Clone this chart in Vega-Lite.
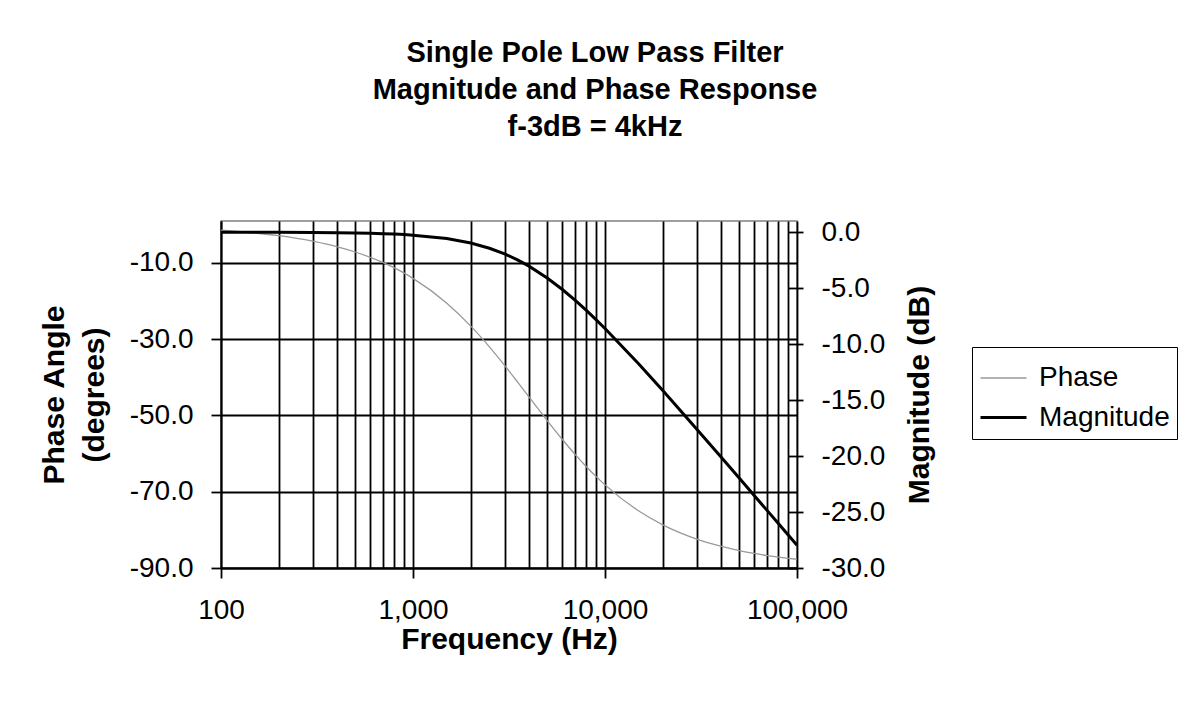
{
  "$schema": "https://vega.github.io/schema/vega-lite/v6.json",
  "width": 576,
  "height": 347,
  "autosize": {"type": "none"},
  "padding": {"left": 221, "top": 221, "right": 390, "bottom": 139},
  "background": "white",
  "title": {
    "text": ["Single Pole Low Pass Filter", "Magnitude and Phase Response", "f-3dB = 4kHz"],
    "anchor": "middle",
    "frame": "group",
    "dx": 86,
    "offset": 47,
    "baseline": "bottom",
    "lineHeight": 37,
    "font": "Liberation Sans",
    "fontSize": 29,
    "fontWeight": "bold",
    "color": "black"
  },
  "data": {
    "values": [
      {"f": 100, "Phase": -1.43, "Magnitude": -0.003},
      {"f": 150, "Phase": -2.15, "Magnitude": -0.006},
      {"f": 200, "Phase": -2.86, "Magnitude": -0.011},
      {"f": 300, "Phase": -4.29, "Magnitude": -0.024},
      {"f": 400, "Phase": -5.71, "Magnitude": -0.043},
      {"f": 500, "Phase": -7.13, "Magnitude": -0.067},
      {"f": 600, "Phase": -8.53, "Magnitude": -0.097},
      {"f": 700, "Phase": -9.93, "Magnitude": -0.131},
      {"f": 800, "Phase": -11.31, "Magnitude": -0.170},
      {"f": 900, "Phase": -12.68, "Magnitude": -0.215},
      {"f": 1000, "Phase": -14.04, "Magnitude": -0.263},
      {"f": 1500, "Phase": -20.56, "Magnitude": -0.571},
      {"f": 2000, "Phase": -26.57, "Magnitude": -0.969},
      {"f": 2500, "Phase": -32.01, "Magnitude": -1.432},
      {"f": 3000, "Phase": -36.87, "Magnitude": -1.938},
      {"f": 3500, "Phase": -41.19, "Magnitude": -2.469},
      {"f": 4000, "Phase": -45.0, "Magnitude": -3.010},
      {"f": 5000, "Phase": -51.34, "Magnitude": -4.087},
      {"f": 6000, "Phase": -56.31, "Magnitude": -5.119},
      {"f": 7000, "Phase": -60.26, "Magnitude": -6.088},
      {"f": 8000, "Phase": -63.43, "Magnitude": -6.990},
      {"f": 9000, "Phase": -66.04, "Magnitude": -7.827},
      {"f": 10000, "Phase": -68.2, "Magnitude": -8.603},
      {"f": 15000, "Phase": -75.07, "Magnitude": -11.779},
      {"f": 20000, "Phase": -78.69, "Magnitude": -14.150},
      {"f": 30000, "Phase": -82.41, "Magnitude": -17.578},
      {"f": 40000, "Phase": -84.29, "Magnitude": -20.043},
      {"f": 50000, "Phase": -85.43, "Magnitude": -21.966},
      {"f": 60000, "Phase": -86.19, "Magnitude": -23.541},
      {"f": 70000, "Phase": -86.73, "Magnitude": -24.875},
      {"f": 80000, "Phase": -87.14, "Magnitude": -26.031},
      {"f": 90000, "Phase": -87.46, "Magnitude": -27.052},
      {"f": 100000, "Phase": -87.71, "Magnitude": -27.966}
    ]
  },
  "transform": [{"fold": ["Phase", "Magnitude"], "as": ["series", "v"]}],
  "encoding": {
    "x": {
      "field": "f",
      "type": "quantitative",
      "scale": {"type": "log", "domain": [100, 100000], "nice": false},
      "axis": {
        "values": [100, 200, 300, 400, 500, 600, 700, 800, 900, 1000, 2000, 3000, 4000, 5000, 6000, 7000, 8000, 9000, 10000, 20000, 30000, 40000, 50000, 60000, 70000, 80000, 90000, 100000],
        "grid": true,
        "tickSize": 10,
        "labelPadding": 18,
        "labelOverlap": false,
        "labelFlush": false,
        "labelBound": false,
        "labelExpr": "indexof([100, 1000, 10000, 100000], datum.value) >= 0 ? format(datum.value, ',') : ''",
        "tickOpacity": {"condition": {"test": "indexof([100, 1000, 10000, 100000], datum.value) >= 0", "value": 1}, "value": 0},
        "title": "Frequency (Hz)",
        "titlePadding": 0
      }
    },
    "color": {
      "field": "series",
      "type": "nominal",
      "scale": {"domain": ["Phase", "Magnitude"], "range": ["#999999", "#000000"]},
      "legend": {
        "title": null, "orient": "none", "legendX": 751, "legendY": 126,
        "symbolType": "stroke", "symbolSize": 2116,
        "labelFont": "Liberation Sans", "labelFontSize": 28, "labelColor": "black",
        "labelOffset": 11, "rowPadding": 1, "padding": 7, "labelLimit": 300,
        "strokeColor": "black", "fillColor": "white"
      }
    },
    "strokeWidth": {
      "field": "series",
      "type": "nominal",
      "scale": {"domain": ["Phase", "Magnitude"], "range": [1.3, 3]},
      "legend": {
        "title": null, "orient": "none", "legendX": 751, "legendY": 126,
        "symbolType": "stroke", "symbolSize": 2116,
        "labelFont": "Liberation Sans", "labelFontSize": 28, "labelColor": "black",
        "labelOffset": 11, "rowPadding": 1, "padding": 7, "labelLimit": 300,
        "strokeColor": "black", "fillColor": "white"
      }
    }
  },
  "layer": [
    {
      "transform": [{"filter": "datum.series === 'Phase'"}],
      "mark": {"type": "line", "interpolate": "monotone"},
      "encoding": {
        "y": {
          "field": "v",
          "type": "quantitative",
          "scale": {"domain": [-90, 1], "nice": false, "zero": false},
          "axis": {
            "orient": "left",
            "values": [-90, -70, -50, -30, -10],
            "grid": true,
            "tickSize": 10,
            "labelPadding": 18,
            "labelExpr": "(datum.value < 0 ? '-' : '') + format(abs(datum.value), '.1f')",
            "title": ["Phase Angle", "(degrees)"],
            "titleLineHeight": 40,
            "titlePadding": 20
          }
        }
      }
    },
    {
      "transform": [{"filter": "datum.series === 'Magnitude'"}],
      "mark": {"type": "line"},
      "encoding": {
        "y": {
          "field": "v",
          "type": "quantitative",
          "scale": {"domain": [-30, 1], "nice": false, "zero": false},
          "axis": {
            "orient": "right",
            "values": [0, -5, -10, -15, -20, -25, -30],
            "grid": false,
            "domain": false,
            "offset": -9,
            "tickSize": 15,
            "labelPadding": 18,
            "labelExpr": "(datum.value < 0 ? '-' : '') + format(abs(datum.value), '.1f')",
            "title": "Magnitude (dB)",
            "titleAngle": 270,
            "titleBaseline": "top",
            "titlePadding": 20
          }
        }
      }
    }
  ],
  "resolve": {"scale": {"y": "independent"}},
  "config": {
    "font": "Liberation Sans",
    "view": {"stroke": "#808080", "strokeWidth": 1.5},
    "axis": {
      "labelFont": "Liberation Sans",
      "labelFontSize": 28,
      "labelColor": "black",
      "titleFont": "Liberation Sans",
      "titleFontSize": 30,
      "titleFontWeight": "bold",
      "titleColor": "black",
      "domainColor": "black",
      "domainWidth": 1.8,
      "tickColor": "black",
      "tickWidth": 1.8,
      "gridColor": "black",
      "gridOpacity": 1,
      "gridWidth": 1.8
    }
  }
}
